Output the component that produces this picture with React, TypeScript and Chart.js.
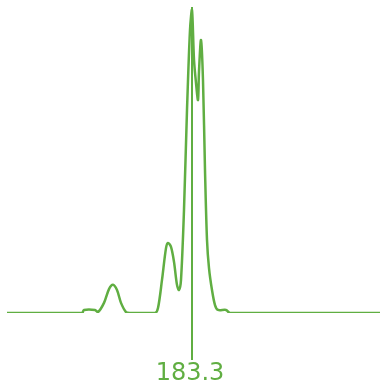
import React, { useEffect, useRef } from "react";
import { Chart, registerables } from "chart.js";

Chart.register(...registerables);

const mz = [
  164.8, 172.3, 172.5, 173.6, 173.9, 174.5, 175.0, 175.4, 175.8, 176.2, 176.7, 177.1,
  179.6, 179.9, 180.3, 180.7, 180.9, 181.2, 181.5, 181.8, 182.0, 182.2, 182.5, 182.8,
  183.1, 183.3, 183.5, 183.7, 183.9, 184.0, 184.2, 184.4, 184.6, 184.8, 185.0, 185.3,
  185.6, 185.9, 186.7, 187.1, 202.1,
];
const intensity = [
  0, 0, 1, 1, 0.3, 3.3, 7.8, 9.2, 7.5, 3.3, 0.3, 0,
  0, 1.6, 10.8, 21.2, 22.9, 21.6, 16.7, 9.2, 7.5, 10.8, 33.7, 66.3,
  92.5, 99, 82.7, 75.2, 69.6, 79, 89.2, 76, 46.7, 23.9, 14.7, 7.5,
  2.6, 1, 1, 0, 0,
];
const markerValue = 183.3;
const markerLabel = "183.3";

const GREEN = "rgb(96,174,66)";

const markerPlugin = {
  id: "marker",
  afterDatasetsDraw(chart: any) {
    const { ctx, chartArea, scales } = chart;
    const x = scales.x.getPixelForValue(markerValue);
    ctx.save();
    ctx.strokeStyle = GREEN;
    ctx.lineWidth = 2;
    ctx.beginPath();
    ctx.moveTo(x, chartArea.top);
    ctx.lineTo(x, chartArea.bottom + 47);
    ctx.stroke();
    ctx.fillStyle = GREEN;
    ctx.font = "24px 'DejaVu Sans'";
    ctx.textAlign = "center";
    ctx.textBaseline = "middle";
    ctx.fillText(markerLabel, x - 2, chartArea.bottom + 61);
    ctx.restore();
  },
};

export default function App() {
  const ref = useRef<HTMLCanvasElement>(null);
  useEffect(() => {
    const chart = new Chart(ref.current!, {
      type: "line",
      data: {
        datasets: [
          {
            data: mz.map((x, i) => ({ x, y: intensity[i] })),
            borderColor: GREEN,
            borderWidth: 2.5,
            pointRadius: 0,
            tension: 0.3,
            fill: false,
          },
        ],
      },
      options: {
        animation: false,
        responsive: false,
        maintainAspectRatio: false,
        layout: { padding: { left: 7, right: 0, top: 7, bottom: 79 } },
        plugins: { legend: { display: false }, tooltip: { enabled: false } },
        scales: {
          x: { type: "linear", min: 164.8, max: 202.1, display: false },
          y: { min: 0, max: 100, display: false },
        },
      },
      plugins: [markerPlugin],
    });
    return () => chart.destroy();
  }, []);
  return (
    <div style={{ position: "absolute", left: 0, top: 0, width: 380, height: 392 }}>
      <canvas ref={ref} width={380} height={392} />
    </div>
  );
}
